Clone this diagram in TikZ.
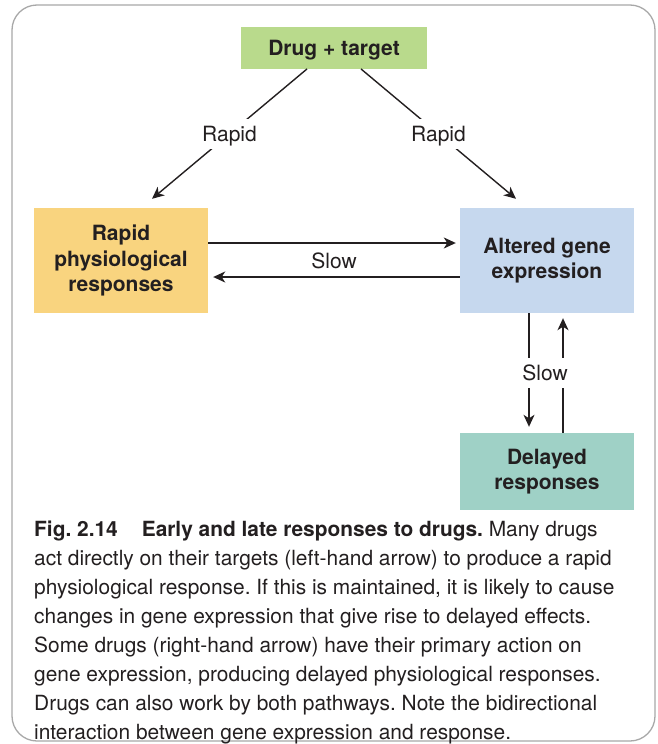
\documentclass[tikz,border=0pt]{standalone}
\usepackage{fontspec}
\setmainfont{TeX Gyre Heros}
\usepackage{xcolor}
\usepackage{tikz}
\usetikzlibrary{calc, arrows.meta, positioning}
\definecolor{inkcol}{HTML}{231F20}
\definecolor{framecol}{HTML}{A8A8A8}
\definecolor{drugcol}{HTML}{B9DA8C}
\definecolor{rapidcol}{HTML}{F9D47F}
\definecolor{genecol}{HTML}{C6D8EE}
\definecolor{delaycol}{HTML}{9FD1C6}
\newcommand{\boxfont}{\fontsize{21pt}{25.5pt}\selectfont\bfseries}
\newcommand{\labelfont}{\fontsize{21pt}{25pt}\selectfont}
\newcommand{\captionfont}{\fontsize{20.9pt}{28.9pt}\selectfont\frenchspacing}
\tikzset{
    boxnode/.style = {rectangle, draw=none, inner sep=0em, node distance=0em, align=center, 
      minimum width=174pt, font=\boxfont, text=inkcol},
    labelnode/.style = {rectangle, fill=white, inner xsep=5pt, inner ysep=7.5pt, text depth=0pt, 
      font=\labelfont, text=inkcol},
    slownode/.style = {rectangle, fill=none, inner sep=0pt, font=\labelfont, text=inkcol},
    captionnode/.style = {rectangle, draw=none, inner sep=0pt, align=left, anchor=north west, 
      font=\captionfont, text=inkcol},
    frame/.style = {draw=framecol, line width=1.3pt, rounded corners=25pt},
    connect/.style = {draw=inkcol, line width=1.4pt, -{Stealth[length=12pt, width=11pt, inset=3.5pt]}}
}

\begin{document}
\begin{tikzpicture}[x=1pt, y=-1pt]
    \useasboundingbox (0,0) rectangle (658,744);
    \draw [frame] (12,5) rectangle (655,741);

    \node [name=drug, boxnode, fill=drugcol, minimum width=186pt, minimum height=41.5pt, 
        text depth=0pt] at (334,48) {Drug + target};

    \node [name=rapid, boxnode, fill=rapidcol, minimum height=105pt, 
        right of = drug, xshift=-213pt, yshift=-212.5pt] {Rapid\\physiological\\responses};
    \node [name=gene, boxnode, fill=genecol, minimum height=105pt, 
        right of = drug, xshift=213pt, yshift=-212.5pt] {Altered gene\\expression};
    \node [name=delayed, boxnode, fill=delaycol, minimum height=77pt, 
        right of = gene, yshift=-211pt] {Delayed\\responses};

    % drug acts on its target
    \draw [connect] ($(drug.south)+(-27,0)$) -- ($(rapid.north)+(31,-9)$) node [labelnode, pos=0.5] {Rapid};
    \draw [connect] ($(drug.south)+(27,0)$) -- ($(gene.north)+(-31,-9)$) node [labelnode, pos=0.5] {Rapid};

    % slow links
    \draw [connect, shorten >=4pt] ($(rapid.east)+(0,-17.5)$) -- ($(gene.west)+(0,-17.5)$);
    \draw [connect, shorten >=5pt] ($(gene.west)+(0,16.5)$) -- ($(rapid.east)+(0,16.5)$);
    \node [name=slowh, slownode] at ($(rapid.east)!0.5!(gene.west)$) {Slow};

    \draw [connect, shorten >=6pt] ($(gene.south)+(-18,0)$) -- ($(delayed.north)+(-18,0)$);
    \draw [connect, shorten >=5pt] ($(delayed.north)+(16,0)$) -- ($(gene.south)+(16,0)$);
    \node [name=slowv, labelnode, inner xsep=7pt] at ($(gene.south)!0.5!(delayed.north)+(-2,0)$) {Slow};

    \node [name=caption, captionnode] at (34,521) {\textbf{Fig. 2.14\hspace{24pt}Early and late responses to drugs.} Many drugs\\
        act directly on their targets (left-hand arrow) to produce a rapid\\
        physiological response. If this is maintained, it is likely to cause\\
        changes in gene expression that give rise to delayed effects.\\
        Some drugs (right-hand arrow) have their primary action on\\
        gene expression, producing delayed physiological responses.\\
        Drugs can also work by both pathways. Note the bidirectional\\
        interaction between gene expression and response.};
\end{tikzpicture}
\end{document}
